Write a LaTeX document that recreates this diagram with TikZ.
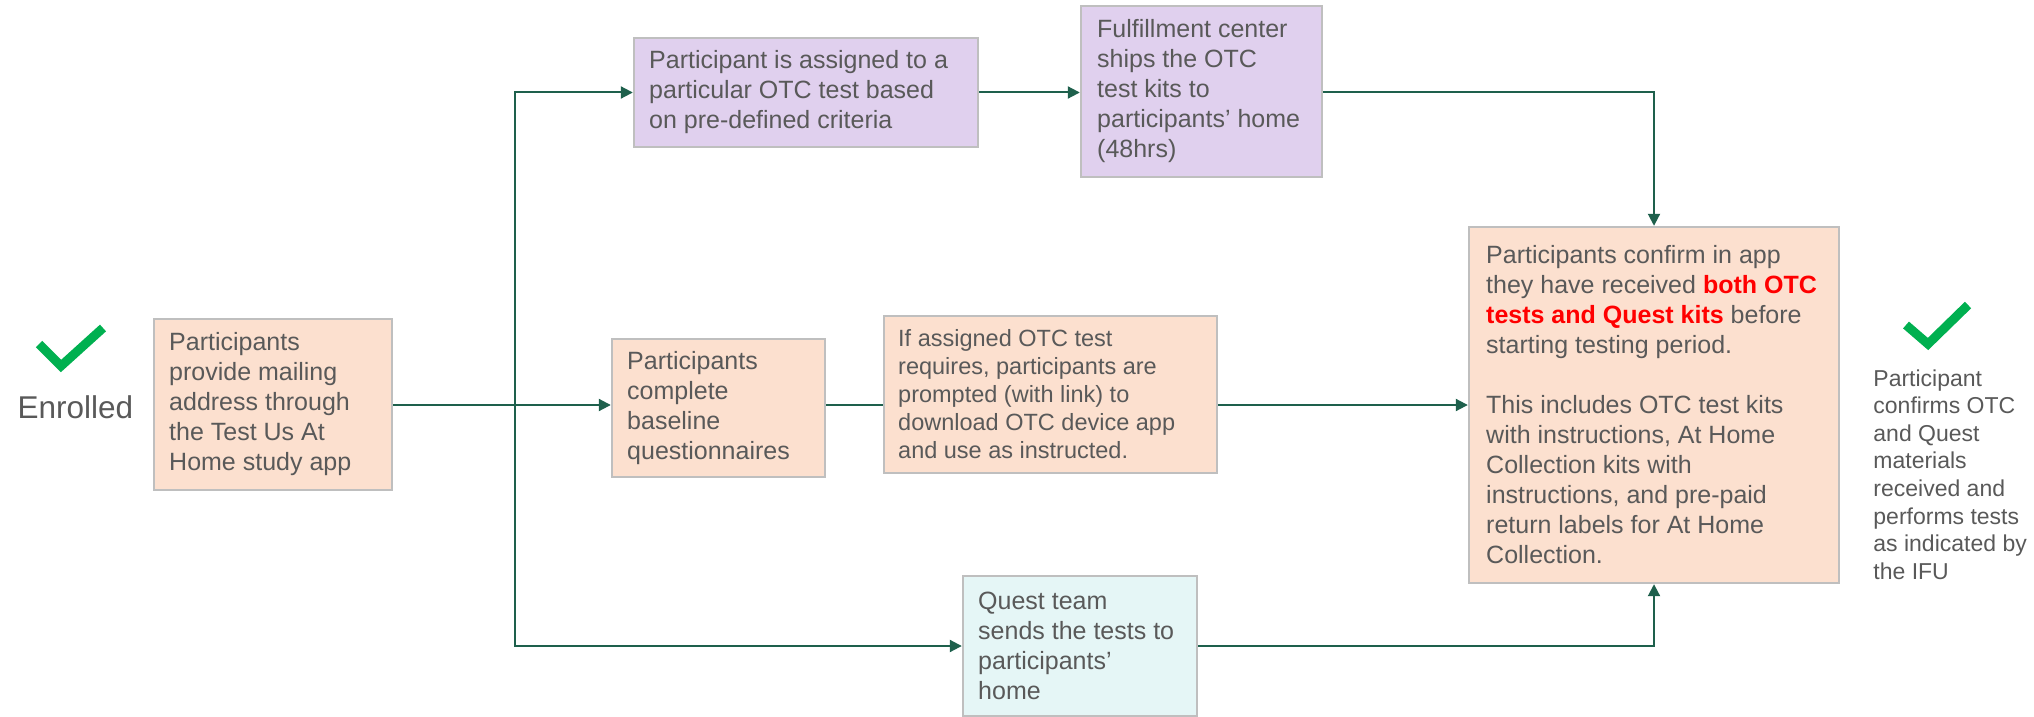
\documentclass[tikz,border=0pt]{standalone}
\usepackage{fontspec}
\setmainfont{Liberation Sans}
\usetikzlibrary{arrows.meta,calc}
\definecolor{peach}{HTML}{FCE0CF}
\definecolor{lilac}{HTML}{E0D0EE}
\definecolor{paleteal}{HTML}{E5F6F6}
\definecolor{boxline}{HTML}{BFBFBF}
\definecolor{txt}{HTML}{595959}
\definecolor{conncol}{HTML}{1E604C}
\definecolor{checkgreen}{HTML}{00B050}
\definecolor{hired}{HTML}{FF0000}
\tikzset{
  box/.style={draw=boxline, line width=1.2pt, inner sep=0pt},
  boxtext/.style={anchor=west, align=left, inner sep=0pt, text=txt,
    font=\fontsize{12.5}{15}\selectfont},
  conn/.style={draw=conncol, line width=1pt},
  arr/.style={conn, -{Triangle[length=6pt,width=6pt]}},
  checkmark/.style={draw=checkgreen, line width=4.5pt, line cap=butt, line join=miter}
}
\begin{document}
\begin{tikzpicture}[x=0.5pt,y=-0.5pt]
\useasboundingbox (0,0) rectangle (2034,717);

% check + Enrolled
\draw[checkmark] (39,344) -- (61,366) -- (103,328);
\node[anchor=base, inner sep=0pt, text=txt, font=\fontsize{15.75}{18}\selectfont] (enr) at (75.5,418) {Enrolled};

% boxes
\node[box, fill=peach, minimum width=119pt, minimum height=85.5pt] (b1) at (273,404.5) {};
\node[box, fill=lilac, minimum width=172pt, minimum height=54.5pt] (b2) at (806,92.5) {};
\node[box, fill=lilac, minimum width=120.5pt, minimum height=85.5pt] (b3) at (1201.5,91.5) {};
\node[box, fill=peach, minimum width=106.5pt, minimum height=69pt] (b4) at (718.5,408) {};
\node[box, fill=peach, minimum width=166.5pt, minimum height=78.5pt] (b5) at (1050.5,394.5) {};
\node[box, fill=peach, minimum width=185pt, minimum height=178pt] (big) at (1654,405) {};
\node[box, fill=paleteal, minimum width=117pt, minimum height=70pt] (b6) at (1080,646) {};

% texts
\node[boxtext] (b1t) at ($(b1.west)+(16,0)$) {Participants\\provide mailing\\address through\\the Test Us At\\Home study app};
\node[boxtext] (b2t) at ($(b2.west)+(16,0)$) {Participant is assigned to a\\particular OTC test based\\on pre-defined criteria};
\node[boxtext] (b3t) at ($(b3.west)+(17,0)$) {Fulfillment center\\ships the OTC\\test kits to\\participants’ home\\(48hrs)};
\node[boxtext] (b4t) at ($(b4.west)+(16,0)$) {Participants\\complete\\baseline\\questionnaires};
\node[boxtext, font=\fontsize{11.75}{14}\selectfont] (b5t) at ($(b5.west)+(15,0)$) {If assigned OTC test\\requires, participants are\\prompted (with link) to\\download OTC device app\\and use as instructed.};
\node[boxtext] (bigt) at ($(big.west)+(18,0)$) {Participants confirm in app\\they have received {\bfseries\color{hired}both OTC}\\{\bfseries\color{hired}tests and Quest kits} before\\starting testing period.\\[15pt]This includes OTC test kits\\with instructions, At Home\\Collection kits with\\instructions, and pre-paid\\return labels for At Home\\Collection.};
\node[boxtext] (b6t) at ($(b6.west)+(16,0)$) {Quest team\\sends the tests to\\participants’\\home};

% right check + text
\draw[checkmark] (1906,325) -- (1928,344) -- (1968,305);
\node[anchor=north west, align=left, inner sep=0pt, text=txt, font=\fontsize{11.5}{13.8}\selectfont] (fin) at (1873,369) {Participant\\confirms OTC\\and Quest\\materials\\received and\\performs tests\\as indicated by\\the IFU};

% connectors
\coordinate (split) at (515,405);
\draw[arr] (b1.east |- split) -- (b4.west |- split);
\draw[arr] (split) |- (b2.west);
\draw[arr] (split) |- (b6.west);
\draw[arr] (b2.east) -- (b3.west |- b2.east);
\draw[arr] (b3.east |- b2.east) -| (big.north);
\draw[conn] (b4.east |- split) -- (b5.west |- split);
\draw[arr] (b5.east |- big.west) -- (big.west);
\draw[arr] (b6.east) -| (big.south);
\end{tikzpicture}
\end{document}
